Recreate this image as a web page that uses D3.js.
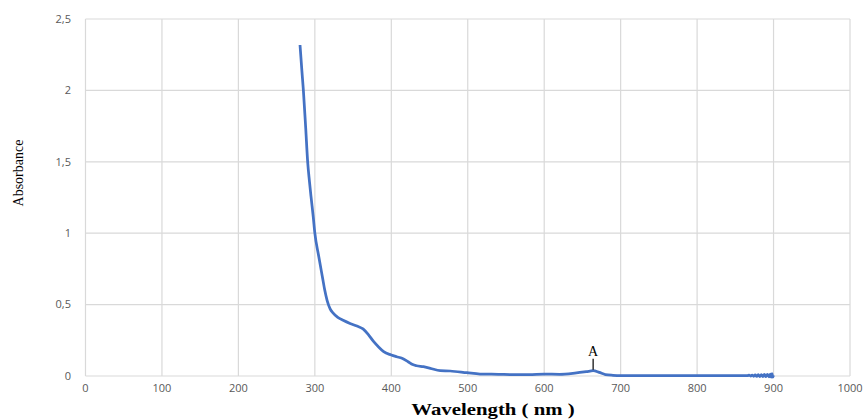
<!DOCTYPE html>
<html lang="en">
<head>
    <meta charset="utf-8">
    <script src="https://d3js.org/d3.v7.min.js"></script>
    <style>
        body { margin: 0; background: #fff; }
        svg { display: block; }
    </style>
</head>
<body>
<svg id="chart" width="863" height="419"></svg>

<script>
    // wavelength (nm) / absorbance
    var wavelength = [280.6, 283, 285, 288, 290.6, 293, 295, 298, 300, 305, 310, 313, 316, 320, 324, 330, 337,
        346, 355, 363, 370, 377, 384, 390, 400, 407, 414, 422, 428, 433, 442, 451, 464, 477, 499, 516, 540,
        560, 580, 600, 620, 640, 655, 664, 672, 680, 690, 700, 750, 800, 850, 866,
        868, 870, 872, 874, 876, 878, 880, 882, 884, 886, 888, 890, 892, 894, 896, 897, 898, 899, 900];
    var absorbance = [2.318, 2.14, 2.0, 1.74, 1.5, 1.36, 1.256, 1.11, 1.0, 0.84, 0.69, 0.6, 0.53, 0.47, 0.44, 0.41, 0.39,
        0.368, 0.35, 0.33, 0.29, 0.24, 0.2, 0.17, 0.147, 0.135, 0.124, 0.1, 0.08, 0.072, 0.065, 0.054, 0.037, 0.035, 0.023, 0.014, 0.012,
        0.01, 0.01, 0.014, 0.012, 0.02, 0.03, 0.037, 0.025, 0.01, 0.005, 0.003, 0.003, 0.002, 0.002, 0.003,
        0.006, 0.0, 0.007, -0.002, 0.008, -0.003, 0.009, -0.004, 0.01, -0.004, 0.011, -0.005, 0.012, -0.006, 0.014, -0.008, 0.016, -0.008, 0.004];

    var xTicks = [0, 100, 200, 300, 400, 500, 600, 700, 800, 900, 1000];
    var yTicks = [0, 0.5, 1, 1.5, 2, 2.5];

    var peak = {wl: 664, abs: 0.037, label: "A"};

    var svg = d3.select("#chart");

    var x = d3.scaleLinear().domain([0, 1000]).range([85.5, 850]);
    var y = d3.scaleLinear().domain([0, 2.5]).range([376, 19]);

    var comma = function(d) { return String(d).replace(".", ","); };

    // grid
    svg.append("g").selectAll("line").data(xTicks).enter().append("line")
        .attr("x1", d => x(d)).attr("x2", d => x(d))
        .attr("y1", y(2.5)).attr("y2", y(0))
        .attr("stroke", "#d9d9d9").attr("stroke-width", 1.2);

    svg.append("g").selectAll("line").data(yTicks).enter().append("line")
        .attr("x1", x(0)).attr("x2", x(1000))
        .attr("y1", d => y(d)).attr("y2", d => y(d))
        .attr("stroke", "#d9d9d9").attr("stroke-width", 1.2);

    // tick labels
    svg.append("g").selectAll("text").data(yTicks).enter().append("text")
        .attr("x", 71).attr("y", d => y(d))
        .attr("dy", "0.35em")
        .attr("text-anchor", "end")
        .style("font-family", "'Open Sans', 'Liberation Sans', sans-serif")
        .style("font-size", "11px")
        .attr("fill", "#595959")
        .text(comma);

    svg.append("g").selectAll("text").data(xTicks).enter().append("text")
        .attr("x", d => x(d)).attr("y", 388)
        .attr("dy", "0.35em")
        .attr("text-anchor", "middle")
        .style("font-family", "'Open Sans', 'Liberation Sans', sans-serif")
        .style("font-size", "11px")
        .attr("fill", "#595959")
        .text(d => d);

    // spectrum
    var pts = wavelength.map((w, i) => [w, absorbance[i]]);
    var line = d3.line()
        .x(d => x(d[0]))
        .y(d => y(d[1]))
        .curve(d3.curveMonotoneX);

    svg.append("path")
        .datum(pts)
        .attr("d", line)
        .attr("fill", "none")
        .attr("stroke", "#4472c4")
        .attr("stroke-width", 2.75)
        .attr("stroke-linejoin", "round");

    // peak marker
    svg.append("line")
        .attr("x1", x(peak.wl)).attr("x2", x(peak.wl))
        .attr("y1", y(peak.abs) - 12).attr("y2", y(peak.abs) - 1)
        .attr("stroke", "#000").attr("stroke-width", 1.2);

    svg.append("text")
        .attr("x", x(peak.wl)).attr("y", y(peak.abs) - 15)
        .attr("text-anchor", "middle")
        .style("font-family", "'Liberation Serif', 'DejaVu Serif', serif")
        .style("font-size", "14px")
        .attr("fill", "#000")
        .text(peak.label);

    // axis titles
    svg.append("text")
        .attr("transform", "translate(23,173) rotate(-90)")
        .attr("text-anchor", "middle")
        .style("font-family", "'Liberation Serif', serif")
        .style("font-size", "14px")
        .attr("fill", "#000")
        .text("Absorbance");

    svg.append("text")
        .attr("transform", "translate(493,415) scale(1.3,1)")
        .attr("text-anchor", "middle")
        .style("font-family", "'Liberation Serif', serif")
        .style("font-size", "16px")
        .style("font-weight", "bold")
        .attr("fill", "#000")
        .text("Wavelength ( nm )");
</script>
</body>
</html>
